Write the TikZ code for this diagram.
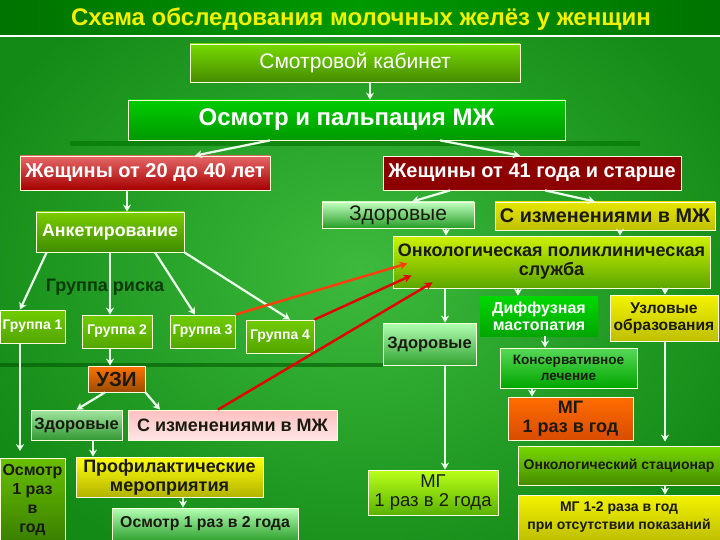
\documentclass[tikz,border=0pt]{standalone}
\usepackage{fontspec}
\setmainfont{Liberation Sans}
\usetikzlibrary{arrows.meta,calc}
\definecolor{bgin}{HTML}{3DBA3D}
\definecolor{bgout}{HTML}{138A16}
\definecolor{ttl}{HTML}{F2F200}
\definecolor{dk}{HTML}{1A1A10}
\definecolor{dkg}{HTML}{0B3A0B}
\newcommand{\fz}[1]{\fontsize{#1}{#1}\selectfont}
\tikzset{
  box/.style={draw=white!85!yellow, line width=0.8pt, inner sep=1pt, align=center, font=\bfseries},
  wt/.style={text=white},
  dt/.style={text=dk},
  arr/.style={draw=white!92!green, line width=2.2pt, -{Stealth[length=7pt,width=8pt]}},
  rarr/.style={draw=red!90!black, line width=2.4pt, -{Stealth[length=8pt,width=8pt]}},
}
\begin{document}
\begin{tikzpicture}[x=1pt,y=-1pt]
\useasboundingbox (0,0) rectangle (720,540);
% background
\shade[inner color=bgin, outer color=bgout] (-60,-60) rectangle (780,600);
\fill[green!45!black, opacity=0.6] (70,141) rectangle (640,146);
\fill[green!35!black, opacity=0.6] (0,363) rectangle (383,367);
% title bar
\shade[left color=green!45!black, right color=green!45!black, middle color=green!60!black] (0,0) rectangle (720,36);
\draw[white, line width=1.2pt] (0,36) -- (720,36);
\node[text=ttl, font=\bfseries\fz{24}] (title) at (361,19) {Схема обследования молочных желёз у женщин};

% top chain
\node[box, wt, top color=yellow!55!green!85!black, bottom color=yellow!50!green!55!black, minimum width=330pt, minimum height=38pt, font=\fz{21}] (smotr) at (355,63) {Смотровой кабинет};
\node[box, wt, top color=green!80!black, bottom color=green!60!black, minimum width=437pt, minimum height=40pt, font=\bfseries\fz{24}] (osm) at (346.5,120) {Осмотр и пальпация МЖ};
\node[box, wt, top color=red!55!white!90!black, bottom color=red!65!black, minimum width=250pt, minimum height=34pt, font=\bfseries\fz{20}] (w20) at (145,173) {Жещины от 20 до 40 лет};
\node[box, wt, fill=red!55!black, minimum width=298pt, minimum height=34pt, font=\bfseries\fz{20}] (w41) at (532,173) {Жещины от 41 года и старше};

% left branch
\node[box, wt, top color=yellow!60!green!80!black, bottom color=yellow!45!green!55!black, minimum width=148pt, minimum height=40pt, font=\bfseries\fz{17.8}] (anket) at (110,232) {Анкетирование};
\node[text=dkg, font=\bfseries\fz{18}] (risk) at (105,287) {Группа риска};
\node[box, wt, top color=yellow!55!green!80!black, bottom color=yellow!50!green!65!black, minimum width=65pt, minimum height=33pt, font=\bfseries\fz{14}] (g1) at (32.5,326.5) {Группа 1};
\node[box, wt, top color=yellow!55!green!80!black, bottom color=yellow!50!green!65!black, minimum width=70pt, minimum height=33pt, font=\bfseries\fz{14}] (g2) at (117,331.5) {Группа 2};
\node[box, wt, top color=yellow!55!green!80!black, bottom color=yellow!50!green!65!black, minimum width=65pt, minimum height=33pt, font=\bfseries\fz{14}] (g3) at (202.5,331.5) {Группа 3};
\node[box, wt, top color=yellow!55!green!80!black, bottom color=yellow!50!green!65!black, minimum width=68pt, minimum height=33pt, font=\bfseries\fz{14}] (g4) at (280,336.5) {Группа 4};
\node[box, dt, top color=orange!90!red, bottom color=orange!60!black, minimum width=57pt, minimum height=26pt, font=\bfseries\fz{20.5}] (uzi) at (116.5,379) {УЗИ};
\node[box, dt, top color=green!30!white!90!black, bottom color=green!50!black!80, minimum width=91pt, minimum height=30pt, font=\bfseries\fz{16.5}] (zdor3) at (76.5,425) {Здоровые};
\node[box, dt, top color=red!25!white, bottom color=red!10!white, minimum width=209pt, minimum height=30pt, font=\bfseries\fz{18}] (izm3) at (232.5,425) {С изменениями в МЖ};
\node[box, dt, top color=yellow!95!white, bottom color=yellow!70!black, minimum width=187pt, minimum height=40pt, font=\bfseries\fz{18}] (prof) at (169.5,477) {Профилактические\\[1pt]мероприятия};
\node[box, dt, top color=green!30!white, bottom color=green!55!black!80, minimum width=186pt, minimum height=32pt, font=\bfseries\fz{15.8}] (osm2) at (205,524) {Осмотр 1 раз в 2 года};
\node[box, dt, top color=yellow!55!green!75!black, bottom color=yellow!45!green!50!black, minimum width=65pt, minimum height=83pt, font=\bfseries\fz{16}] (osm1) at (32.5,500) {Осмотр\\[3pt]1 раз\\[3pt]в\\[3pt]год};

% right branch
\node[box, dt, top color=green!25!white, bottom color=green!55!black!85, minimum width=152pt, minimum height=26pt, font=\fz{21}] (zdor1) at (398,215) {Здоровые};
\node[box, dt, top color=yellow!90!black, bottom color=yellow!75!black, minimum width=220pt, minimum height=28pt, font=\bfseries\fz{19.8}] (izm1) at (605,216) {С изменениями в МЖ};
\node[box, dt, top color=yellow!85!green!95!black, bottom color=yellow!55!green!65!black, minimum width=317pt, minimum height=52pt, font=\bfseries\fz{18}] (onko) at (551.5,262) {Онкологическая поликлиническая\\[1pt]служба};
\node[box, dt, top color=green!30!white, bottom color=green!55!black!80, minimum width=93pt, minimum height=42pt, font=\bfseries\fz{16.5}] (zdor2) at (429.5,344) {Здоровые};
\node[box, wt, draw=none, top color=green!85!black, bottom color=green!65!black, minimum width=118pt, minimum height=40pt, font=\bfseries\fz{16}] (diff) at (539,316) {Диффузная\\[1pt]мастопатия};
\node[box, dt, top color=yellow!95!black, bottom color=yellow!75!black, minimum width=108pt, minimum height=46pt, font=\bfseries\fz{15.6}] (uzl) at (664,318) {Узловые\\[1pt]образования};
\node[box, dt, top color=green!60!white!85!black, bottom color=green!65!black, minimum width=137pt, minimum height=40pt, font=\bfseries\fz{13.6}] (kons) at (568.5,368) {Консервативное\\[2pt]лечение};
\node[box, dt, top color=orange!85!red, bottom color=orange!70!red!85!black, minimum width=125pt, minimum height=43pt, font=\bfseries\fz{18}] (mg1) at (570.5,418.5) {МГ\\[1pt]1 раз в год};
\node[box, dt, top color=yellow!55!green!85!black, bottom color=yellow!50!green!55!black, minimum width=202pt, minimum height=39pt, font=\bfseries\fz{14}] (stac) at (619,465.5) {Онкологический стационар};
\node[box, dt, top color=yellow!95!black, bottom color=yellow!75!black, minimum width=202pt, minimum height=45pt, font=\bfseries\fz{14}] (mg12) at (619,517.5) {МГ 1-2 раза в год\\[4pt]при отсутствии показаний};
\node[box, dt, top color=yellow!70!green!90!white, bottom color=yellow!50!green!70!black, minimum width=130pt, minimum height=45pt, font=\fz{18.5}] (mg2) at (433,492.5) {МГ\\[1pt]1 раз в 2 года};

% white arrows
\draw[arr] ([xshift=15pt]smotr.south) -- ([xshift=15pt]smotr.south |- osm.north);
\draw[arr] ([xshift=-76.5pt]osm.south) -- ([xshift=50pt]w20.north);
\draw[arr] ([xshift=93.5pt]osm.south) -- ([xshift=-12pt]w41.north);
\draw[arr] ([xshift=-18pt]w20.south) -- ([xshift=-18pt]w20.south |- anket.north);
\draw[arr] ([xshift=-82pt]w41.south) -- ([xshift=14pt]zdor1.north);
\draw[arr] ([xshift=13pt]w41.south) -- ([xshift=-10pt]izm1.north);
\draw[arr] ([xshift=48pt]zdor1.south) -- ([xshift=48pt]zdor1.south |- onko.north);
\draw[arr] ([xshift=15pt]izm1.south) -- ([xshift=15pt]izm1.south |- onko.north);
\draw[arr] ([xshift=11pt]anket.south west) -- ([xshift=-12.5pt]g1.north);
\draw[arr] (anket.south) -- (anket.south |- g2.north);
\draw[arr] ([xshift=45pt]anket.south) -- ([xshift=-7.5pt]g3.north);
\draw[arr] (anket.south east) -- ([xshift=10pt]g4.north);
\draw[arr] ([xshift=-12.5pt]g1.south) -- ([xshift=-12.5pt,yshift=7pt]g1.south |- osm1.north);
\draw[arr] ([xshift=-7pt]g2.south) -- ([xshift=-7pt]g2.south |- uzi.north);
\draw[arr] ([xshift=-11.5pt]uzi.south) -- (zdor3.north);
\draw[arr] (uzi.south east) -- ([xshift=-72.5pt]izm3.north);
\draw[arr] ([xshift=16.5pt]zdor3.south) -- ([xshift=16.5pt]zdor3.south |- prof.north);
\draw[arr] ([xshift=13.5pt]prof.south) -- ([xshift=13.5pt]prof.south |- osm2.north);
\draw[arr] ([xshift=-106.5pt]onko.south) -- ([xshift=-106.5pt]onko.south |- zdor2.north);
\draw[arr] ([xshift=-33.5pt]onko.south) -- ([xshift=-33.5pt]onko.south |- diff.north);
\draw[arr] ([xshift=113.5pt]onko.south) -- ([xshift=113.5pt]onko.south |- uzl.north);
\draw[arr] ([xshift=6pt]diff.south) -- ([xshift=6pt]diff.south |- kons.north);
\draw[arr] ([xshift=-36.5pt]kons.south) -- ([xshift=-36.5pt]kons.south |- mg1.north);
\draw[arr] ([xshift=1pt]uzl.south) -- ([xshift=1pt,yshift=4pt]uzl.south |- stac.north);
\draw[arr] ([xshift=46pt]stac.south) -- ([xshift=46pt]stac.south |- mg12.north);
\draw[arr] ([xshift=15.5pt]zdor2.south) -- ([xshift=15.5pt]zdor2.south |- mg2.north);

% red arrows
\draw[rarr, draw=red!60!orange!95!white] (g3.north east) -- ([xshift=15pt,yshift=25pt]onko.south west);
\draw[rarr] (g4.north east) -- ([xshift=19pt,yshift=13pt]onko.south west);
\draw[rarr] ([xshift=-14.5pt]izm3.north) -- ([xshift=40pt,yshift=6pt]onko.south west);
\end{tikzpicture}
\end{document}
